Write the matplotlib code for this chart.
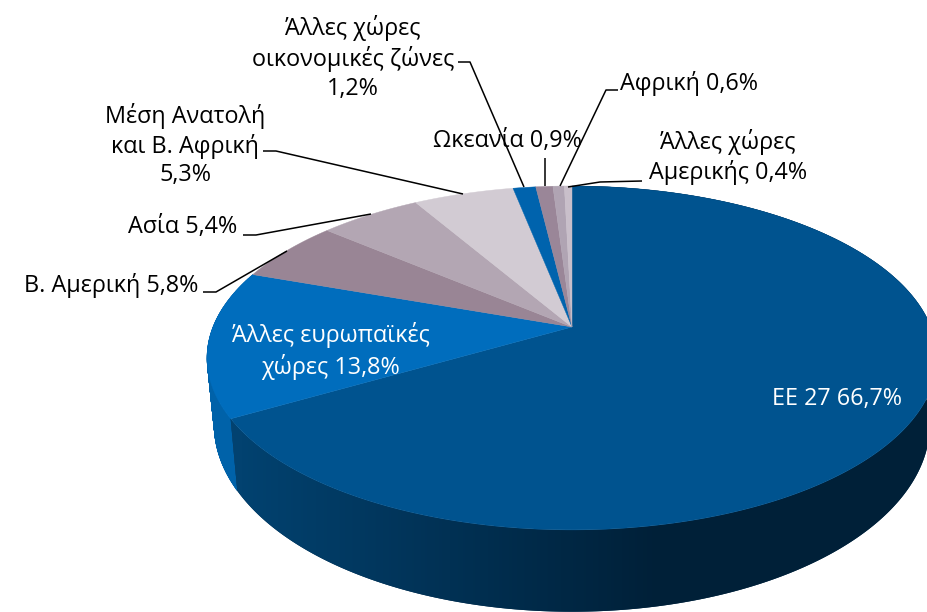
import numpy as np
import matplotlib
matplotlib.use('Agg')
import matplotlib.pyplot as plt
from matplotlib.collections import PolyCollection
from matplotlib.colors import LinearSegmentedColormap

# clockwise from 12 o'clock
regions = ['EE 27', 'Άλλες ευρωπαϊκές χώρες', 'Β. Αμερική', 'Ασία', 'Μέση Ανατολή και Β. Αφρική',
           'Άλλες χώρες οικονομικές ζώνες', 'Ωκεανία', 'Αφρική', 'Άλλες χώρες Αμερικής']
shares = [66.7, 13.8, 5.8, 5.4, 5.3, 1.2, 0.9, 0.6, 0.4]
top_colors = ['#00538f', '#006dbd', '#998595', '#b3a6b3', '#d2cbd3', '#0063ad', '#9a8698', '#b0a4b3', '#c9bfca']

# label text, x, y, colour
labels = [
    ('EE 27 66,7%', 837, 399, 'white'),
    ('Άλλες ευρωπαϊκές\nχώρες 13,8%', 331, 351, 'white'),
    ('Β. Αμερική 5,8%', 111, 285, 'black'),
    ('Ασία 5,4%', 183, 227, 'black'),
    ('Μέση Ανατολή\nκαι Β. Αφρική\n5,3%', 185, 145, 'black'),
    ('Άλλες χώρες\nοικονομικές ζώνες\n1,2%', 353, 58, 'black'),
    ('Ωκεανία 0,9%', 507, 141, 'black'),
    ('Αφρική 0,6%', 689, 83, 'black'),
    ('Άλλες χώρες\nΑμερικής 0,4%', 728, 157, 'black'),
]

leaders = [
    ([203, 216, 287], [292, 292, 251]),
    ([243, 256, 371], [235, 235, 214]),
    ([263, 276, 463], [151, 151, 194]),
    ([458, 470, 524], [62, 62, 187]),
    ([545, 545], [158, 186]),
    ([618, 606, 560], [90, 90, 186]),
    ([642, 600, 568], [181, 182, 187]),
]


def top_xy(theta):
    # perspective view of the pie disc, apex at (572, 327)
    u, v = np.sin(theta), np.cos(theta)
    w = 1 + 0.18 * v
    return 572 + 359 * u / w, 327 - 166.4 * v / w


def bottom_xy(theta):
    u, v = np.sin(theta), np.cos(theta)
    w = 1 + 0.18 * v
    return 572 + 352 * u / w, 391 - 181 * v / w


plt.rcParams['font.family'] = ['Open Sans', 'DejaVu Sans']
fig = plt.figure(figsize=(9.27, 6.12), dpi=100, facecolor='white')
ax = fig.add_axes([0, 0, 1, 1])
ax.axis('off')

edges = np.cumsum([0] + shares) / sum(shares) * 2 * np.pi

# side wall of the second slice, flat colour, quads so the left silhouette stays convex
ts = np.linspace(edges[1], edges[2], 200)
xt, yt = top_xy(ts)
xb, yb = bottom_xy(ts)
quads = [[(xt[j], yt[j]), (xt[j + 1], yt[j + 1]), (xb[j + 1], yb[j + 1]), (xb[j], yb[j])] for j in range(len(ts) - 1)]
ax.add_collection(PolyCollection(quads, facecolors='#0062a9', edgecolors='#0062a9', linewidths=0.4, zorder=1))

# side wall of EE, shades left to right
ts = np.linspace(edges[0], edges[1], 400)
xt, yt = top_xy(ts)
xb, yb = bottom_xy(ts)
wall, = ax.fill(np.r_[xt, xb[::-1]], np.r_[yt, yb[::-1]], facecolor='#012a4a', edgecolor='none', zorder=1)
ramp = LinearSegmentedColormap.from_list('wall', ['#024270', '#002038'])
grad = np.clip((np.linspace(0, 927, 927) - 240) / 420, 0, 1)[None, :]
im = ax.imshow(grad, cmap=ramp, extent=(0, 927, 612, 0), aspect='auto', zorder=1.5, vmin=0, vmax=1)
im.set_clip_path(wall)

# top face
for i, c in enumerate(top_colors):
    ts = np.linspace(edges[i], edges[i + 1], 200)
    x, y = top_xy(ts)
    ax.fill(np.r_[572, x], np.r_[327, y], facecolor=c, edgecolor=c, linewidth=0.3, zorder=2)

for xs, ys in leaders:
    ax.plot(xs, ys, color='black', lw=1.1, solid_capstyle='butt', zorder=3)

for text, x, y, c in labels:
    ax.text(x, y, text, color=c, fontsize=16.8, ha='center', va='center', linespacing=1.27, zorder=4)

ax.set_xlim(0, 927)
ax.set_ylim(612, 0)

fig.savefig('out.png', dpi=100)
